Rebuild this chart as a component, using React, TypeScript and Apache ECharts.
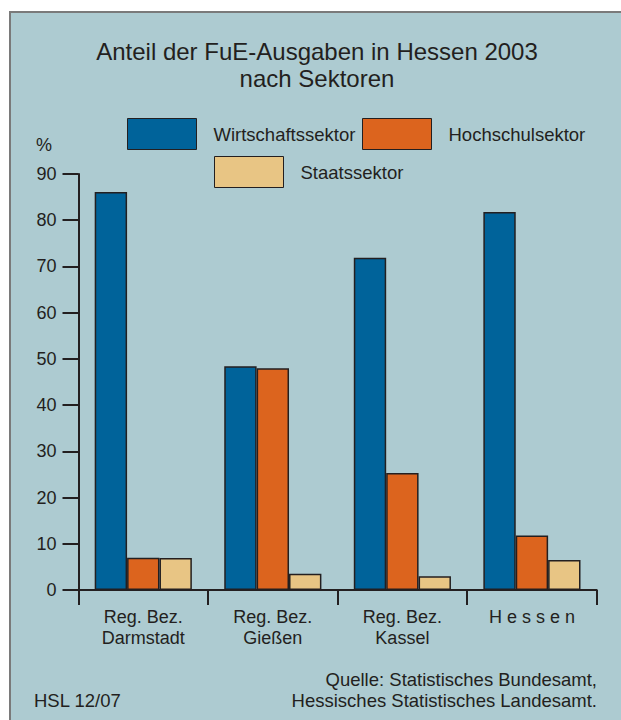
import { useEffect, useRef } from "react";
import * as echarts from "echarts";

// Anteil der FuE-Ausgaben in Hessen 2003 nach Sektoren (in %)
const categories = [
  "Reg. Bez.\nDarmstadt",
  "Reg. Bez.\nGießen",
  "Reg. Bez.\nKassel",
  "H e s s e n",
];
const sectorNames = ["Wirtschaftssektor", "Hochschulsektor", "Staatssektor"];
const wirtschaftssektor = [86.1, 48.4, 71.9, 81.8];
const hochschulsektor = [7.0, 48.0, 25.3, 11.8];
const staatssektor = [6.9, 3.5, 3.0, 6.5];
const yMin = 0;
const yMax = 90;
const yStep = 10;

const FONT = "Liberation Sans, Arial, Helvetica, sans-serif";
const INK = "#231f20";
const COLORS = ["#00639a", "#dc641e", "#e8c584"];
const PANEL = "#adcbd1";

export default function App() {
  const ref = useRef<HTMLDivElement>(null);

  useEffect(() => {
    document.body.style.margin = "0";
    if (!ref.current) return;
    const chart = echarts.init(ref.current, undefined, { renderer: "svg" });

    const values = [wirtschaftssektor, hochschulsektor, staatssektor];

    const legendPos = [
      { left: 127, top: 118 },
      { left: 362, top: 118 },
      { left: 214, top: 156 },
    ];

    chart.setOption({
      animation: false,
      backgroundColor: "#ffffff",
      textStyle: { fontFamily: FONT, color: INK },
      graphic: [
        {
          type: "rect",
          z: -100,
          silent: true,
          shape: { x: 10, y: 12, width: 640, height: 740 },
          style: { fill: PANEL, stroke: "#7a7a7a", lineWidth: 2 },
        },
        {
          type: "text",
          x: 317,
          y: 65,
          style: {
            text: "Anteil der FuE-Ausgaben in Hessen 2003\nnach Sektoren",
            fontFamily: FONT,
            fontSize: 24,
            lineHeight: 27,
            fill: INK,
            align: "center",
            verticalAlign: "middle",
          },
        },
        {
          type: "text",
          x: 44,
          y: 145,
          style: {
            text: "%",
            fontFamily: FONT,
            fontSize: 18,
            fill: INK,
            align: "center",
            verticalAlign: "middle",
          },
        },
        {
          type: "text",
          x: 597,
          y: 689.5,
          style: {
            text: "Quelle: Statistisches Bundesamt,\nHessisches Statistisches Landesamt.",
            fontFamily: FONT,
            fontSize: 18.5,
            lineHeight: 21,
            fill: INK,
            align: "right",
            verticalAlign: "middle",
          },
        },
        {
          type: "text",
          x: 34,
          y: 700,
          style: {
            text: "HSL 12/07",
            fontFamily: FONT,
            fontSize: 18.5,
            fill: INK,
            align: "left",
            verticalAlign: "middle",
          },
        },
      ],
      legend: sectorNames.map((name, i) => ({
        data: [name],
        left: legendPos[i].left,
        top: legendPos[i].top,
        padding: 0,
        itemWidth: 69,
        itemHeight: 31,
        icon: "rect",
        selectedMode: false,
        itemStyle: { borderColor: INK, borderWidth: 1 },
        textStyle: {
          fontFamily: FONT,
          fontSize: 18.5,
          color: INK,
          padding: [0, 0, 0, 12],
        },
      })),
      grid: { left: 78.5, right: 24.3, top: 174, bottom: 130 },
      xAxis: {
        type: "category",
        data: categories,
        axisLine: { lineStyle: { color: INK, width: 2 } },
        axisTick: { show: true, length: 15, lineStyle: { color: INK, width: 2 } },
        axisLabel: {
          fontFamily: FONT,
          fontSize: 18,
          color: INK,
          lineHeight: 21,
          margin: 16,
        },
      },
      yAxis: {
        type: "value",
        min: yMin,
        max: yMax,
        interval: yStep,
        axisLine: { show: true, lineStyle: { color: INK, width: 2 } },
        axisTick: { show: true, length: 16, lineStyle: { color: INK, width: 2 } },
        splitLine: { show: false },
        axisLabel: {
          fontFamily: FONT,
          fontSize: 18,
          color: INK,
          margin: 22,
        },
      },
      series: sectorNames.map((name, i) => ({
        name,
        type: "bar",
        data: values[i],
        barGap: "0%",
        barCategoryGap: "25%",
        itemStyle: { color: COLORS[i], borderColor: INK, borderWidth: 1.5 },
      })),
    });

    return () => chart.dispose();
  }, []);

  return <div ref={ref} style={{ width: 621, height: 720 }} />;
}
